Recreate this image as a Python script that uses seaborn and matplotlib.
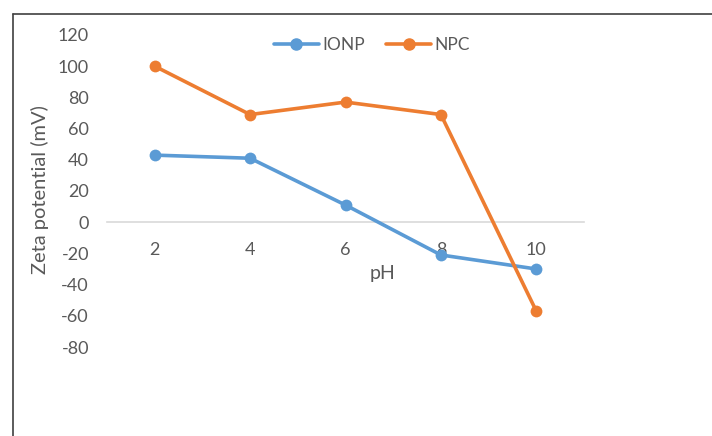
import pandas as pd
import matplotlib.pyplot as plt
import seaborn as sns
from matplotlib.lines import Line2D

# Data
ph = [2, 4, 6, 8, 10]
ionp = [43, 41, 11, -21, -30]
npc = [100, 69, 77, 69, -57]

df = pd.DataFrame({
    'pH': ph * 2,
    'Zeta': ionp + npc,
    'Sample': ['IONP'] * len(ph) + ['NPC'] * len(ph),
})

sns.set_style('white')
plt.rcParams['font.family'] = ['Lato', 'DejaVu Sans']
plt.rcParams['axes.unicode_minus'] = False
text_color = '#595959'

fig = plt.figure(figsize=(7.12, 4.36), dpi=100)
ax = fig.add_axes([107 / 712, 1 - 347 / 436, (584 - 107) / 712, (347 - 35) / 436])

sns.lineplot(data=df, x='pH', y='Zeta', hue='Sample',
             palette={'IONP': '#5B9BD5', 'NPC': '#ED7D31'},
             marker='o', markersize=8.5, markeredgewidth=0,
             linewidth=2.6, ax=ax, legend=False)

ax.set_xlim(1, 11)
ax.set_ylim(-80, 120)
ax.set_xticks(ph)
ax.set_yticks(range(-80, 121, 20))
ax.set_xlabel('')
ax.set_ylabel('')

for side in ['top', 'right', 'left']:
    ax.spines[side].set_visible(False)
ax.spines['bottom'].set_position(('data', 0))
ax.spines['bottom'].set_color('#D9D9D9')
ax.spines['bottom'].set_linewidth(1.2)
ax.spines['bottom'].set_zorder(0)
ax.tick_params(axis='both', length=0, labelsize=13, colors=text_color)
ax.tick_params(axis='y', pad=13)
ax.tick_params(axis='x', pad=14)

handles = [
    Line2D([], [], color='#5B9BD5', marker='o', markersize=8, linewidth=2.6),
    Line2D([], [], color='#ED7D31', marker='o', markersize=8, linewidth=2.6),
]
fig.legend(handles, ['IONP', 'NPC'], loc='center', ncol=2,
           bbox_to_anchor=(372 / 712, 1 - 45 / 436), frameon=False,
           fontsize=12.5, labelcolor=text_color, handlelength=2.6,
           handletextpad=0.2, columnspacing=1.2)

fig.text(383 / 712, 1 - 273 / 436, 'pH', ha='center', va='center',
         fontsize=14, color=text_color)
fig.text(40 / 712, 1 - 190 / 436, 'Zeta potential (mV)', ha='center',
         va='center', rotation=90, fontsize=14.5, color=text_color)

# chart frame (top and left edges visible in the reference crop)
fig.add_artist(Line2D([13 / 712, 1.0], [1 - 14 / 436, 1 - 14 / 436],
                      transform=fig.transFigure, color='#404040', linewidth=1.2))
fig.add_artist(Line2D([13 / 712, 13 / 712], [0.0, 1 - 14 / 436],
                      transform=fig.transFigure, color='#404040', linewidth=1.2))

fig.savefig('out.png', dpi=100)
